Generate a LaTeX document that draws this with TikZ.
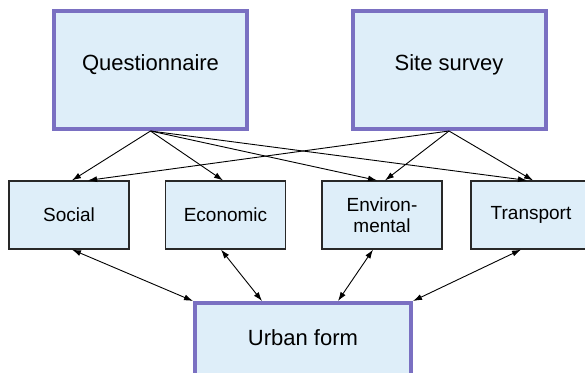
\documentclass[tikz,border=0pt]{standalone}
\usepackage{fontspec}
\setmainfont{Liberation Sans}
\usetikzlibrary{arrows.meta}
\definecolor{boxfill}{RGB}{222,238,249}
\definecolor{bigedge}{RGB}{122,112,194}
\definecolor{smalledge}{RGB}{40,40,40}
\tikzset{
  bigbox/.style={draw=bigedge, line width=4pt, fill=boxfill, minimum width=193pt, minimum height=118pt, inner sep=0pt, font=\fontsize{22}{24}\selectfont},
  smallbox/.style={draw=smalledge, line width=1.2pt, fill=boxfill, minimum width=120pt, minimum height=68pt, inner sep=0pt, align=center, font=\fontsize{19}{20.5}\selectfont},
  arr/.style={line width=0.9pt, -{Latex[length=9pt,width=6pt]}},
  darr/.style={line width=0.9pt, {Latex[length=9pt,width=6pt]}-{Latex[length=9pt,width=6pt]}}
}
\begin{document}
\begin{tikzpicture}[x=1pt,y=-1pt]
\useasboundingbox (0,0) rectangle (585,372);
\clip (0,0) rectangle (585,372);
\node[bigbox] (q) at (150.5,70) {\raisebox{14pt}{Questionnaire}};
\node[bigbox] (s) at (449,70) {\raisebox{14pt}{Site survey}};
\node[smallbox] (soc) at (69,215) {Social};
\node[smallbox] (eco) at (225.5,215) {Economic};
\node[smallbox] (env) at (382,215) {Environ-\\mental};
\node[smallbox] (tra) at (531,215) {Transport};
\node[bigbox, minimum width=216pt, minimum height=122pt, anchor=north] (u) at (303,301) {\raisebox{52pt}{Urban form}};
% top arrows
\draw[arr] (q.south) -- ([xshift=3pt]soc.north);
\draw[arr] (q.south) -- ([xshift=-2.5pt]eco.north);
\draw[arr] (q.south) -- ([xshift=-5pt]env.north);
\draw[arr] (q.south) -- ([xshift=-4pt]tra.north);
\draw[arr] (s.south) -- ([xshift=19pt]soc.north);
\draw[arr] (s.south) -- ([xshift=3pt]env.north);
\draw[arr] (s.south) -- ([xshift=2pt]tra.north);
% bottom arrows
\draw[darr] ([xshift=3pt]soc.south) -- (u.north west);
\draw[darr] ([xshift=-4.5pt]eco.south) -- ([xshift=-41pt]u.north);
\draw[darr] ([xshift=-9pt]env.south) -- ([xshift=35pt]u.north);
\draw[darr] ([xshift=-10pt]tra.south) -- (u.north east);
\end{tikzpicture}
\end{document}
